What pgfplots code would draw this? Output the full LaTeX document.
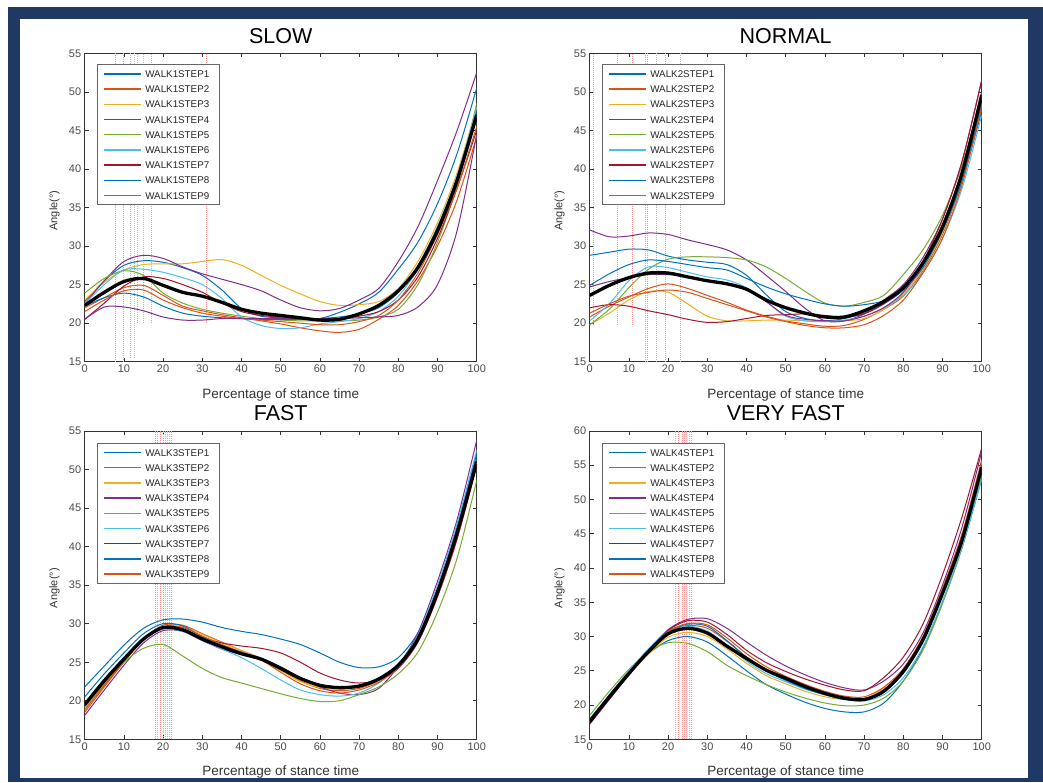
\documentclass[border=0pt]{standalone}
\usepackage{fontspec}
\setmainfont{Liberation Sans}
\usepackage{pgfplots}
\pgfplotsset{compat=1.18}
\usepackage{pgfplotstable}

\definecolor{c1}{rgb}{0,0.447,0.741}
\definecolor{c2}{rgb}{0.85,0.325,0.098}
\definecolor{c3}{rgb}{0.929,0.694,0.125}
\definecolor{c4}{rgb}{0.494,0.184,0.556}
\definecolor{c5}{rgb}{0.466,0.674,0.188}
\definecolor{c6}{rgb}{0.301,0.745,0.933}
\definecolor{c7}{rgb}{0.635,0.078,0.184}
\definecolor{navy}{RGB}{31,56,100}

\pgfplotstableread{
x s1 s2 s3 s4 s5 s6 s7 s8 s9 e m
0 22.8 22.0 23.0 22.5 23.9 22.5 20.5 22.2 21.5 20.5 22.3
5 25.5 23.3 25.3 25.5 25.8 25.0 22.6 23.3 23.0 22.1 24.0
10 27.5 24.6 26.9 28.0 26.8 26.9 24.8 23.9 24.2 22.1 25.4
15 28.1 24.9 27.6 28.8 26.2 27.0 26.0 23.4 24.3 21.6 25.8
20 27.9 23.6 27.7 28.4 23.9 26.6 25.8 22.2 23.0 20.8 24.9
25 27.2 22.2 27.7 27.3 22.6 25.9 25.0 21.3 22.0 20.4 24.0
30 26.2 21.6 28.0 26.4 21.8 25.0 24.0 20.9 21.3 20.4 23.5
35 24.3 21.1 28.25 25.7 21.3 23.2 22.6 20.7 20.9 20.6 22.7
40 21.9 20.7 27.5 25.0 20.9 20.8 21.5 20.6 20.6 20.6 21.8
45 20.9 20.3 26.2 24.2 20.6 19.7 21.0 20.5 20.4 20.6 21.3
50 20.7 19.9 24.9 23.0 20.4 19.3 20.8 20.5 20.2 20.6 21.0
55 20.6 19.4 23.8 22.0 20.3 19.4 20.6 20.5 20.0 20.6 20.7
60 20.6 19.0 22.8 21.6 20.3 19.9 20.5 20.6 19.8 20.6 20.4
65 21.4 18.8 22.3 21.9 20.3 20.2 20.6 20.8 19.8 20.6 20.5
70 22.5 19.2 22.4 23.0 20.4 20.6 20.9 21.2 20.2 20.7 21.2
75 24.0 20.5 22.8 24.5 20.8 21.5 21.5 22.0 21.0 20.8 22.3
80 27.0 22.3 24.5 28.0 21.8 23.5 23.0 24.0 23.0 21.0 24.2
85 30.5 25.5 28.0 32.5 25.0 27.0 26.0 27.5 26.5 22.1 27.2
90 35.5 30.0 33.0 38.5 30.5 32.0 31.0 32.5 31.5 25.0 32.0
95 42.0 36.0 39.5 45.0 38.0 39.0 37.5 39.0 37.5 32.0 38.5
100 50.5 44.2 48.0 52.5 48.5 48.0 45.0 47.5 45.5 44.5 47.0
}\slowtab

\pgfplotstableread{
x s1 s2 s3 s4 s5 s6 s7 s8 s9 e m
0 28.8 20.8 19.8 32.1 19.8 20.3 22.0 24.9 21.3 24.7 23.6
5 29.2 22.2 21.3 31.2 21.8 22.5 22.4 26.4 22.5 25.4 24.9
10 29.6 23.4 23.0 31.3 24.6 25.5 22.2 27.6 23.5 25.9 25.9
15 29.5 24.5 24.1 31.7 27.0 27.3 21.6 28.2 24.0 26.3 26.5
20 28.7 25.1 24.0 31.5 28.3 27.2 21.1 28.0 24.3 26.3 26.5
25 28.2 24.5 22.5 30.8 28.6 26.6 20.5 27.6 24.0 26.0 26.0
30 27.9 23.6 20.9 30.2 28.6 26.0 20.1 27.2 23.2 25.5 25.5
35 27.6 22.7 20.3 29.5 28.5 25.6 20.2 26.9 22.4 25.2 25.1
40 26.2 21.7 20.3 28.2 28.2 24.6 20.6 25.8 21.6 24.5 24.4
45 23.7 20.9 20.4 26.2 27.3 22.8 21.0 24.7 20.8 22.8 23.0
50 21.5 20.3 20.4 24.1 25.8 20.9 21.1 23.8 20.2 21.0 22.0
55 20.6 19.9 20.3 21.9 24.1 20.3 21.2 23.1 19.7 20.5 21.3
60 20.3 19.6 20.2 20.3 22.6 20.2 21.0 22.5 19.4 20.3 20.8
65 20.6 19.7 20.3 20.3 22.2 20.4 20.8 22.2 19.4 20.3 20.8
70 21.3 20.5 20.6 21.2 22.7 20.9 21.2 22.4 19.8 20.9 21.6
75 22.5 21.8 21.8 23.0 23.6 22.0 22.5 22.9 21.0 22.0 22.8
80 24.3 23.5 23.8 25.0 26.3 23.6 24.5 24.3 23.0 24.0 24.6
85 27.5 26.8 27.0 28.5 29.5 26.5 28.0 27.2 26.5 27.5 27.8
90 32.0 31.5 31.8 33.5 34.0 31.0 33.5 32.0 31.0 32.5 32.5
95 38.5 38.5 38.5 41.0 40.5 37.5 41.0 38.5 38.0 39.5 39.5
100 47.5 48.5 48.5 51.5 49.5 47.0 51.5 48.5 48.0 50.0 49.6
}\normtab

\pgfplotstableread{
x s1 s2 s3 s4 s5 s6 s7 s8 s9 m
0 21.8 18.5 19.0 18.1 19.2 19.5 19.3 20.5 18.8 19.5
5 24.5 21.8 22.2 21.4 22.1 22.8 22.4 23.5 22.0 22.6
10 27.2 25.0 25.2 24.6 25.0 25.6 25.3 26.2 25.1 25.4
15 29.4 28.0 27.9 27.5 26.8 28.0 28.0 28.7 27.9 28.0
20 30.5 29.8 29.6 29.1 27.3 29.3 29.4 30.0 29.6 29.5
25 30.6 29.8 29.6 29.0 25.8 29.0 29.3 29.7 29.5 29.2
30 30.2 28.7 28.6 27.8 24.2 27.8 28.2 28.3 28.4 28.0
35 29.5 27.6 27.5 26.7 23.0 26.7 27.5 27.2 27.3 27.0
40 29.0 26.5 26.5 26.0 22.3 25.6 27.1 26.3 26.3 26.1
45 28.6 25.5 25.4 25.5 21.6 24.2 26.8 25.5 25.3 25.4
50 28.0 24.0 23.9 24.4 20.9 22.7 26.2 24.3 23.7 24.2
55 27.3 22.6 22.5 23.0 20.3 21.4 25.0 23.0 22.2 22.9
60 26.2 21.6 21.7 21.8 19.9 20.8 23.6 22.1 21.3 22.0
65 25.0 21.3 21.5 21.0 20.0 20.6 22.7 21.8 21.0 21.7
70 24.3 21.6 21.8 20.8 20.8 21.0 22.3 22.0 21.4 21.9
75 24.4 22.6 22.6 21.6 21.8 22.3 22.7 23.0 22.4 22.8
80 25.6 24.5 24.3 24.5 23.5 24.6 24.2 24.8 24.3 24.6
85 28.8 28.0 27.6 28.8 26.3 28.5 27.6 28.3 27.8 28.0
90 34.5 34.0 33.5 35.5 31.5 35.0 33.5 34.5 34.0 34.1
95 42.0 41.5 41.0 43.5 38.5 43.0 41.0 42.5 41.5 41.8
100 51.5 50.8 50.5 53.8 48.6 52.5 50.5 52.0 50.8 51.0
}\fasttab

\pgfplotstableread{
x s1 s2 s3 s4 s5 s6 s7 s8 s9 m
0 18.0 17.5 17.6 17.2 18.5 17.8 17.3 17.7 17.5 17.6
5 21.4 21.1 21.1 20.8 22.0 21.5 20.9 21.3 21.1 21.2
10 24.6 24.6 24.5 24.4 25.2 25.0 24.4 24.7 24.6 24.6
15 27.5 27.8 27.5 27.9 27.8 28.2 27.9 28.0 27.9 27.8
20 29.4 30.6 29.9 31.0 29.1 30.9 30.9 30.7 30.7 30.4
25 30.0 31.6 30.6 32.5 29.0 31.5 32.3 31.8 31.9 31.2
30 29.2 31.2 30.0 32.6 27.8 30.8 32.1 31.5 31.7 30.5
35 27.2 29.3 28.2 31.2 25.8 28.7 30.3 29.4 29.8 28.6
40 25.0 27.0 26.1 29.2 24.3 26.4 28.0 27.0 27.5 26.8
45 23.0 25.1 24.3 27.3 23.0 24.6 26.2 25.0 25.6 25.1
50 21.6 23.8 23.1 25.7 21.9 23.4 24.9 23.6 24.2 23.9
55 20.4 22.6 22.0 24.4 21.0 22.3 23.8 22.4 23.0 22.7
60 19.5 21.6 21.2 23.3 20.3 21.5 22.9 21.5 22.0 21.7
65 19.0 21.0 20.8 22.5 19.9 20.9 22.2 20.8 21.3 21.0
70 19.0 20.9 20.9 22.2 20.0 20.6 22.1 20.7 21.2 20.8
75 20.3 22.3 22.5 23.5 21.0 21.5 24.0 22.0 22.6 22.0
80 23.5 25.0 25.3 26.0 23.5 24.0 27.0 24.7 25.3 24.9
85 28.3 29.6 30.0 30.5 28.0 28.5 31.8 29.3 30.0 29.5
90 35.0 36.5 37.0 37.5 34.8 35.2 39.0 36.3 37.0 36.3
95 43.0 44.5 45.0 46.0 43.0 43.2 47.5 44.3 45.0 44.1
100 53.0 55.5 55.5 57.0 53.5 53.0 57.5 55.0 55.8 54.7
}\vfasttab

\pgfplotsset{
  panel/.style={
    scale only axis, width=392pt, height=308.4pt,
    xmin=0, xmax=100, ymin=15,
    xtick={0,10,...,100},
    /pgf/number format/assume math mode=true,
    tick align=inside, major tick length=4pt,
    axis line style={black!80, line width=0.7pt},
    tick style={black!80, line width=0.6pt},
    tick label style={font=\fontsize{11}{12}\selectfont, text=black!70},
    xlabel={Percentage of stance time},
    ylabel={Angle(°)},
    xlabel style={font=\fontsize{13.5}{15}\selectfont, text=black!80, at={(axis description cs:0.5,0)}, anchor=base, yshift=-36.3pt},
    ylabel style={font=\fontsize{11}{12}\selectfont, text=black!80, at={(axis description cs:-0.077,0.49)}, anchor=center},
    title style={font=\fontsize{21.5}{24}\selectfont, at={(axis description cs:0.5,1)}, anchor=base, yshift=4.3pt},
    legend cell align=left,
    legend image code/.code={\draw[##1, line width=1.3pt] (0pt,0pt) -- (37pt,0pt);},
    legend style={anchor=north west, draw=black!60, line width=0.7pt, fill=white,
      inner xsep=6.7pt, inner ysep=2.3pt, row sep=1.4pt,
      font=\fontsize{9.8}{11}\selectfont, text=black!85,
      nodes={inner sep=3.3pt, text height=7.2pt, text depth=0pt}},
    every axis plot/.append style={smooth, line width=1.0pt},
  },
  vline/.style={red!40, line width=0.6pt, dash pattern=on 1pt off 1pt, sharp plot},
  meanline/.style={black, line width=3.3pt},
}
\newcommand{\vl}[3]{\addplot[vline, forget plot] coordinates {(#1,#2) (#1,#3)};}
\newcommand{\steps}[2]{%
  \addplot[draw=c1] table[x=x,y=s1]{#1}; \addlegendentry{WALK#2STEP1}
  \addplot[draw=c2] table[x=x,y=s2]{#1}; \addlegendentry{WALK#2STEP2}
  \addplot[draw=c3] table[x=x,y=s3]{#1}; \addlegendentry{WALK#2STEP3}
  \addplot[draw=c4] table[x=x,y=s4]{#1}; \addlegendentry{WALK#2STEP4}
  \addplot[draw=c5] table[x=x,y=s5]{#1}; \addlegendentry{WALK#2STEP5}
  \addplot[draw=c6] table[x=x,y=s6]{#1}; \addlegendentry{WALK#2STEP6}
  \addplot[draw=c7] table[x=x,y=s7]{#1}; \addlegendentry{WALK#2STEP7}
  \addplot[draw=c1] table[x=x,y=s8]{#1}; \addlegendentry{WALK#2STEP8}
  \addplot[draw=c2] table[x=x,y=s9]{#1}; \addlegendentry{WALK#2STEP9}
}

\begin{document}
\begin{tikzpicture}
\path[use as bounding box] (0,0) rectangle (1043pt,-782pt);
\fill[white] (0,0) rectangle (1043pt,-782pt);
\fill[navy] (8pt,-7pt) rectangle (1043pt,-782pt);
\fill[white] (20pt,-19pt) rectangle (1028pt,-778pt);

% SLOW
\begin{axis}[panel, at={(84.7pt,-361.7pt)}, anchor=south west,
  ymax=55, ytick={15,20,...,55}, title={SLOW},
  legend style={at={(axis description cs:0.0306,0.9643)}}]
\vl{7.9}{15}{55}\vl{9.85}{15}{55}\vl{11.7}{15.5}{55}\vl{12.7}{15.5}{55}
\vl{13.5}{20}{55}\vl{14.95}{20}{55}\vl{17.1}{20}{55}\vl{30.9}{20}{55}
\steps{\slowtab}{1}
\addplot[draw=c4, forget plot] table[x=x,y=e]{\slowtab};
\addplot[meanline, forget plot] table[x=x,y=m]{\slowtab};
\end{axis}

% NORMAL
\begin{axis}[panel, at={(589.7pt,-361.7pt)}, anchor=south west,
  ymax=55, ytick={15,20,...,55}, title={NORMAL},
  legend style={at={(axis description cs:0.0306,0.9643)}}]
\vl{0.93}{19.8}{55}\vl{7.05}{19.8}{55}\vl{10.96}{19.8}{55}\vl{14.1}{15}{55}
\vl{14.8}{15}{55}\vl{17.1}{15}{55}\vl{19.2}{15}{55}\vl{23.2}{15}{55}
\steps{\normtab}{2}
\addplot[draw=c4, forget plot] table[x=x,y=e]{\normtab};
\addplot[meanline, forget plot] table[x=x,y=m]{\normtab};
\end{axis}

% FAST
\begin{axis}[panel, at={(84.7pt,-739.3pt)}, anchor=south west,
  ymax=55, ytick={15,20,...,55}, title={FAST},
  legend style={at={(axis description cs:0.0306,0.961)}}]
\vl{17.9}{15}{55}\vl{18.5}{15}{55}\vl{19.2}{15}{55}\vl{20.06}{15}{55}
\vl{20.5}{15}{55}\vl{21.1}{15}{55}\vl{21.6}{15}{55}\vl{22.0}{15}{55}
\steps{\fasttab}{3}
\addplot[meanline, forget plot] table[x=x,y=m]{\fasttab};
\end{axis}

% VERY FAST
\begin{axis}[panel, at={(589.7pt,-739.3pt)}, anchor=south west,
  ymax=60, ytick={15,20,...,60}, title={VERY FAST},
  legend style={at={(axis description cs:0.0306,0.961)}}]
\vl{21.9}{15}{60}\vl{22.6}{15}{60}\vl{23.5}{15}{60}\vl{24.06}{15}{60}
\vl{24.7}{15}{60}\vl{25.4}{15}{60}\vl{26.0}{15}{60}
\steps{\vfasttab}{4}
\addplot[meanline, forget plot] table[x=x,y=m]{\vfasttab};
\end{axis}
\end{tikzpicture}
\end{document}
